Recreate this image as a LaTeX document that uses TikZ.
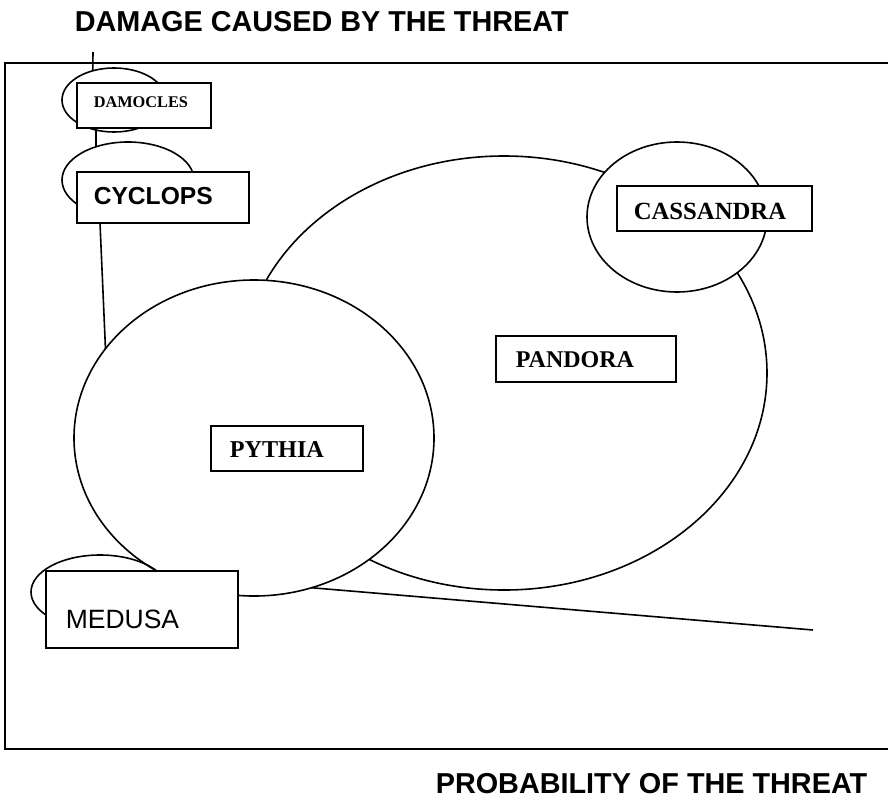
\documentclass[tikz,border=0pt]{standalone}
\usepackage{fontspec}
\setmainfont{Liberation Serif}
\newfontfamily\arialfont{Liberation Sans}
\usetikzlibrary{shapes.geometric}

\begin{document}
\begin{tikzpicture}[x=1pt,y=-1pt,line width=1.6pt,
  blob/.style={shape=ellipse,draw=black,fill=white,inner sep=0pt,outer sep=0pt},
  loop/.style={shape=ellipse,draw=black,inner sep=0pt,outer sep=0pt},
  box/.style={shape=rectangle,draw=black,fill=white,inner sep=0pt,outer sep=0pt,anchor=north west},
  lbl/.style={anchor=base west,inner sep=0pt}]
\useasboundingbox (0,0) rectangle (888,803);

\node[lbl,font=\arialfont\bfseries\fontsize{28.8}{30}\selectfont] (damage) at (74,31) {DAMAGE CAUSED BY THE THREAT};
\node[lbl,font=\arialfont\bfseries\fontsize{28.8}{30}\selectfont] (probability) at (435,793) {PROBABILITY OF THE THREAT};

\draw[line width=1.8pt] (889,63) -- (5,63) -- (5,749) -- (889,749);

\node[blob,minimum width=526pt,minimum height=434pt] (pandora) at (504,373) {};
\node[blob,minimum width=180pt,minimum height=150pt] (cassandra) at (677,217) {};
\node[blob,minimum width=360pt,minimum height=316pt] (pythia) at (254,438) {};

\node[loop,minimum width=104pt,minimum height=64pt] (damoclesloop) at (114,100) {};
\node[loop,minimum width=132pt,minimum height=76pt] (cyclopsloop) at (128,180) {};
\node[loop,minimum width=138pt,minimum height=74pt] (medusaloop) at (100,592) {};

\node[box,minimum width=134pt,minimum height=45pt] (damocles) at (77,83) {};
\node[box,minimum width=172pt,minimum height=51pt] (cyclops) at (77,172) {};
\node[box,minimum width=195pt,minimum height=45pt] (cassandrabox) at (617,186) {};
\node[box,minimum width=180pt,minimum height=46pt] (pandorabox) at (496,336) {};
\node[box,minimum width=152pt,minimum height=45pt] (pythiabox) at (211,426) {};
\node[box,minimum width=192pt,minimum height=77pt] (medusa) at (46,571) {};

\node[lbl,font=\bfseries\fontsize{16.3}{18}\selectfont] (damoclestxt) at (93,107) {DAMOCLES};
\node[lbl,font=\arialfont\bfseries\fontsize{24.6}{26}\selectfont] (cyclopstxt) at (93,204) {CYCLOPS};
\node[lbl,font=\bfseries\fontsize{24.7}{26}\selectfont] (cassandratxt) at (633,219) {CASSANDRA};
\node[lbl,font=\bfseries\fontsize{24}{26}\selectfont] (pandoratxt) at (515,367) {PANDORA};
\node[lbl,font=\bfseries\fontsize{24.2}{26}\selectfont] (pythiatxt) at (229,457) {PYTHIA};
\node[lbl,font=\arialfont\fontsize{26.5}{28}\selectfont] (medusatxt) at (65,628) {MEDUSA};

\coordinate (axtop) at (93,52);
\coordinate (probend) at (813,630);
\draw (axtop) -- (damoclesloop.126);
\draw (cyclopsloop.134) -- (cyclopsloop.134 |- damocles.south);
\draw (cyclops.south west) ++(23,0) -- (pythia.149);
\draw (pythia.291) -- (probend);

\end{tikzpicture}
\end{document}
